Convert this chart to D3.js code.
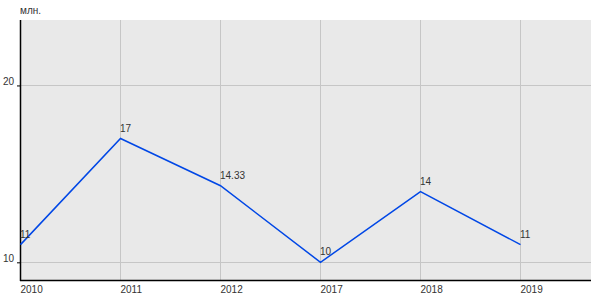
<!DOCTYPE html>
<html>
<head>
<meta charset="utf-8">
<script src="https://cdn.jsdelivr.net/npm/d3@7"></script>
<style>
  body { margin: 0; background: #fff; }
  text { font-family: Arial, "Liberation Sans", sans-serif; font-size: 10px; fill: #333; }
</style>
</head>
<body>
<div id="chart"></div>
<script>
// Data
const years = ['2010', '2011', '2012', '2017', '2018', '2019']
const values = [11, 17, 14.33, 10, 14, 11]
const valueLabels = ['11', '17', '14.33', '10', '14', '11']
const yTicks = [10, 20]
const unit = 'млн.'

const dataset = years.map((y, i) => ({ year: y, value: values[i], label: valueLabels[i] }))

// Dimensions
const dimensions = { width: 600, height: 300, left: 20, right: 591, top: 20, bottom: 280 }

const svg = d3.select('#chart')
  .append('svg')
  .attr('width', dimensions.width)
  .attr('height', dimensions.height)

// Scales
const xScale = d3.scalePoint()
  .domain(years)
  .range([dimensions.left, dimensions.left + 500])

const yScale = d3.scaleLinear()
  .domain([9, 23.7])
  .range([dimensions.bottom, dimensions.top])

// Background
svg.append('rect')
  .attr('x', dimensions.left)
  .attr('y', dimensions.top)
  .attr('width', dimensions.right - dimensions.left)
  .attr('height', dimensions.bottom - dimensions.top)
  .attr('fill', '#e9e9e9')

// Grid
svg.append('g')
  .selectAll('line')
  .data(years)
  .join('line')
  .attr('x1', d => xScale(d) + 0.5)
  .attr('x2', d => xScale(d) + 0.5)
  .attr('y1', dimensions.top)
  .attr('y2', dimensions.bottom)
  .attr('stroke', '#c6c6c6')

svg.append('g')
  .selectAll('line')
  .data(yTicks)
  .join('line')
  .attr('x1', dimensions.left)
  .attr('x2', dimensions.right)
  .attr('y1', d => Math.round(yScale(d)) + 0.5)
  .attr('y2', d => Math.round(yScale(d)) + 0.5)
  .attr('stroke', '#c6c6c6')

// Axes
const yAxis = d3.axisLeft(yScale)
  .tickValues(yTicks)
  .tickSize(3)
  .tickPadding(3)

const yAxisGroup = svg.append('g')
  .attr('transform', `translate(${dimensions.left}, 0)`)
  .call(yAxis)
yAxisGroup.select('.domain').remove()
yAxisGroup.selectAll('line').attr('stroke', '#000')
yAxisGroup.selectAll('text').attr('dy', '-0.1em').style('font-family', 'Arial, "Liberation Sans", sans-serif').style('font-size', '10px').attr('fill', '#333')

const xAxis = d3.axisBottom(xScale).tickSize(0).tickPadding(6)
const xAxisGroup = svg.append('g')
  .attr('transform', `translate(0, ${dimensions.bottom})`)
  .call(xAxis)
xAxisGroup.select('.domain').remove()
xAxisGroup.selectAll('text')
  .attr('text-anchor', 'start')
  .style('font-family', 'Arial, "Liberation Sans", sans-serif')
  .style('font-size', '10px')
  .attr('fill', '#333')

svg.append('line')
  .attr('x1', dimensions.left + 0.5)
  .attr('x2', dimensions.left + 0.5)
  .attr('y1', dimensions.top)
  .attr('y2', dimensions.bottom + 1)
  .attr('stroke', '#000')
  .attr('stroke-width', 1.5)

svg.append('line')
  .attr('x1', dimensions.left)
  .attr('x2', dimensions.right)
  .attr('y1', dimensions.bottom + 0.5)
  .attr('y2', dimensions.bottom + 0.5)
  .attr('stroke', '#000')
  .attr('stroke-width', 1.5)

// Line
const line = d3.line()
  .x(d => xScale(d.year) + 0.5)
  .y(d => yScale(d.value))

svg.append('path')
  .datum(dataset)
  .attr('d', line)
  .attr('fill', 'none')
  .attr('stroke', '#0047e6')
  .attr('stroke-width', 1.5)

// Labels
svg.append('g')
  .selectAll('text')
  .data(dataset)
  .join('text')
  .attr('x', d => xScale(d.year))
  .attr('y', d => yScale(d.value) - 7)
  .text(d => d.label)

svg.append('text')
  .attr('x', dimensions.left)
  .attr('y', 14)
  .text(unit)
</script>
</body>
</html>
